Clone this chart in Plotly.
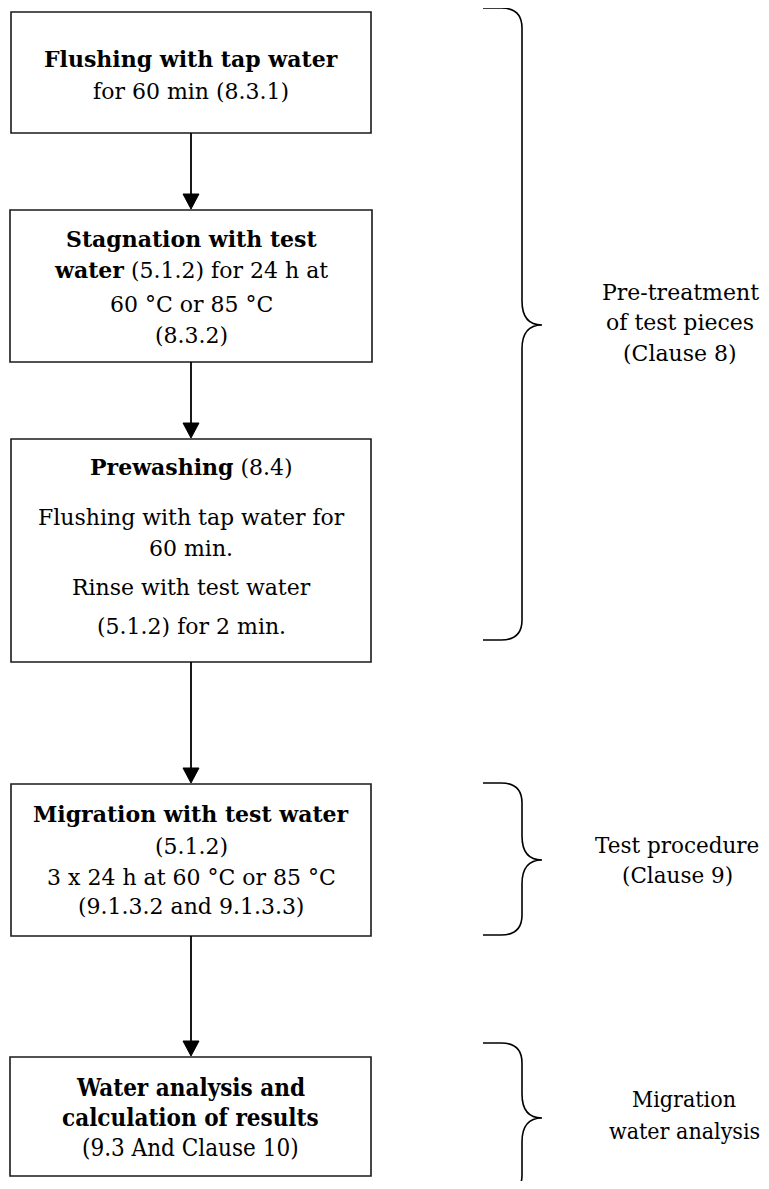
import plotly.graph_objects as go

# ---- content ----
step1_lines = ["<b>Flushing with tap water</b>", "for 60 min (8.3.1)"]
step2_lines = ["<b>Stagnation with test</b>", "<b>water</b> (5.1.2) for 24 h at",
               "60 °C or 85 °C", "(8.3.2)"]
step3_lines = ["<b>Prewashing</b> (8.4)", "Flushing with tap water for", "60 min.",
               "Rinse with test water", "(5.1.2) for 2 min."]
step4_lines = ["<b>Migration with test water</b>", "(5.1.2)",
               "3 x 24 h at 60 °C or 85 °C", "(9.1.3.2 and 9.1.3.3)"]
step5_lines = ["<b>Water analysis and</b>", "<b>calculation of results</b>",
               "(9.3 And Clause 10)"]
group1_lines = ["Pre-treatment", "of test pieces", "(Clause 8)"]
group2_lines = ["Test procedure", "(Clause 9)"]
group3_lines = ["Migration", "water analysis"]

# ---- layout (pixel geometry, page coordinates) ----
W, H = 769, 1189
OFF = 8  # default page body margin
SERIF = "DejaVu Serif"
COND = "DejaVu Serif Condensed, Liberation Serif, serif"

steps = [
    dict(lines=step1_lines, box=(11, 12, 371, 133), ys=[59, 91], font=SERIF, size=22),
    dict(lines=step2_lines, box=(10, 210, 372, 362), ys=[239, 270, 304, 335], font=SERIF, size=22),
    dict(lines=step3_lines, box=(11, 439, 371, 662), ys=[467, 517, 548, 587, 626], font=SERIF, size=22),
    dict(lines=step4_lines, box=(11, 784, 371, 936), ys=[814, 846, 877, 906], font=SERIF, size=22),
    dict(lines=step5_lines, box=(10, 1057, 371, 1176), ys=[1087, 1117, 1148], font=COND, size=24),
]
groups = [
    dict(lines=group1_lines, brace=(8, 325, 640), x=680, ys=[292, 322, 353], font=SERIF, size=22),
    dict(lines=group2_lines, brace=(783, 860, 935), x=677, ys=[845, 875], font=SERIF, size=21.5),
    dict(lines=group3_lines, brace=(1043, 1118, 1195), x=684, ys=[1099, 1131], font=COND, size=23),
]
ARROW_X = 191

fig = go.Figure()
shapes = []
annotations = []

for st in steps:
    x0, y0, x1, y1 = st["box"]
    shapes.append(dict(type="rect", xref="x", yref="y", x0=x0, y0=y0, x1=x1, y1=y1,
                       line=dict(color="#1a1a1a", width=1.6), fillcolor="rgba(0,0,0,0)"))
    for txt, y in zip(st["lines"], st["ys"]):
        annotations.append(dict(x=(x0 + x1) / 2, y=y, xref="x", yref="y", text=txt,
                                showarrow=False, xanchor="center", yanchor="middle",
                                font=dict(family=st["font"], size=st["size"], color="black")))

# arrows between boxes
for a, b in zip(steps[:-1], steps[1:]):
    ya = a["box"][3]
    yb = b["box"][1]
    shapes.append(dict(type="line", xref="x", yref="y", x0=ARROW_X, x1=ARROW_X,
                       y0=ya, y1=yb - 14, line=dict(color="black", width=1.8)))
    shapes.append(dict(type="path", xref="x", yref="y",
                       path=f"M {ARROW_X-8},{yb-16} L {ARROW_X+8},{yb-16} L {ARROW_X},{yb-1} Z",
                       fillcolor="black", line=dict(color="black", width=1)))

# braces
XT, XV, XP = 483, 522, 542
for g in groups:
    top, mid, bot = g["brace"]
    p = (f"M {XT},{top} L {XT+18},{top} Q {XV},{top} {XV},{top+20} "
         f"L {XV},{mid-24} Q {XV},{mid} {XP},{mid} "
         f"Q {XV},{mid} {XV},{mid+24} L {XV},{bot-20} "
         f"Q {XV},{bot} {XT+18},{bot} L {XT},{bot}")
    shapes.append(dict(type="path", xref="x", yref="y", path=p,
                       line=dict(color="black", width=1.6)))
    for txt, y in zip(g["lines"], g["ys"]):
        annotations.append(dict(x=g["x"], y=y, xref="x", yref="y", text=txt,
                                showarrow=False, xanchor="center", yanchor="middle",
                                font=dict(family=g["font"], size=g["size"], color="black")))

fig.update_layout(
    width=W - 2 * OFF, height=H - 2 * OFF, margin=dict(l=0, r=0, t=0, b=0),
    paper_bgcolor="white", plot_bgcolor="white",
    xaxis=dict(range=[OFF, W - OFF], visible=False, fixedrange=True),
    yaxis=dict(range=[H - OFF, OFF], visible=False, fixedrange=True),
    shapes=shapes, annotations=annotations, showlegend=False,
)
fig.write_html("out.html")
